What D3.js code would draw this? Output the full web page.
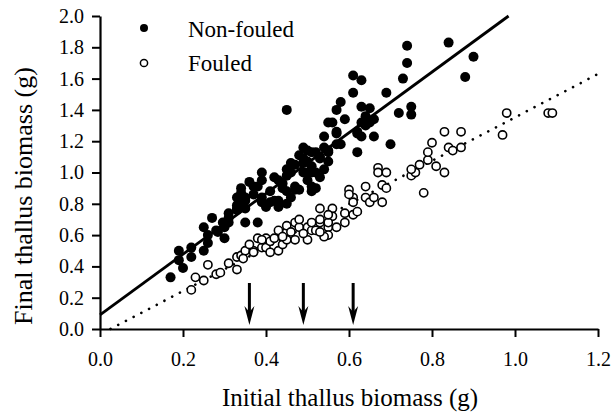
<!DOCTYPE html>
<html>
<head>
<meta charset="utf-8">
<script src="https://cdn.jsdelivr.net/npm/d3@7"></script>
<style>
  html, body { margin: 0; padding: 0; background: #fff; }
  svg { display: block; }
  text { font-family: "Liberation Serif", "Times New Roman", serif; fill: #000; }
</style>
</head>
<body>
<svg id="chart" width="616" height="416"></svg>
<script>
// ---- data ----
const nonFouledX = [0.17,0.19,0.20,0.19,0.22,0.22,0.25,0.26,0.25,0.27,0.26,0.28,0.284,0.30,0.31,0.31,0.30,0.33,0.34,0.34,0.35,0.35,0.38,0.37,0.36,0.296,0.33,0.37,0.39,0.39,0.41,0.39,0.41,0.43,0.44,0.45,0.46,0.48,0.47,0.46,0.45,0.49,0.50,0.49,0.45,0.58,0.55,0.59,0.57,0.54,0.54,0.51,0.55,0.62,0.49,0.53,0.47,0.51,0.46,0.50,0.51,0.53,0.50,0.51,0.47,0.44,0.42,0.43,0.38,0.34,0.33,0.35,0.39,0.42,0.45,0.48,0.40,0.43,0.45,0.35,0.33,0.31,0.61,0.63,0.61,0.57,0.63,0.56,0.74,0.84,0.90,0.74,0.88,0.73,0.69,0.65,0.72,0.75,0.75,0.64,0.66,0.64,0.62,0.63,0.66,0.70,0.58,0.63,0.65,0.57,0.62,0.49,0.52,0.55,0.57,0.50,0.53,0.55,0.52,0.54,0.52,0.51];
const nonFouledY = [0.33,0.44,0.39,0.50,0.52,0.46,0.50,0.55,0.65,0.71,0.60,0.63,0.62,0.58,0.71,0.68,0.65,0.76,0.82,0.87,0.82,0.68,0.68,0.91,0.94,0.68,0.79,0.86,1.00,0.95,0.88,0.81,0.81,0.82,0.90,1.02,1.06,1.11,0.89,0.84,0.98,1.09,1.14,1.00,1.40,1.45,1.32,1.34,1.26,1.23,1.16,1.13,1.14,1.13,1.06,1.09,1.05,1.04,1.00,1.00,1.00,0.97,0.95,0.91,0.91,0.93,0.97,0.95,0.91,0.90,0.84,0.84,0.84,0.82,0.88,0.89,0.78,0.78,0.80,0.77,0.77,0.74,1.62,1.59,1.51,1.40,1.42,1.32,1.81,1.83,1.74,1.70,1.61,1.60,1.51,1.41,1.38,1.42,1.37,1.36,1.34,1.30,1.26,1.23,1.23,1.18,1.18,1.32,1.32,1.25,1.25,1.16,1.13,1.13,1.18,1.07,1.10,1.07,1.00,1.02,0.90,0.88];

const fouledX = [0.22,0.23,0.25,0.26,0.28,0.29,0.31,0.33,0.33,0.34,0.35,0.37,0.38,0.345,0.37,0.39,0.40,0.40,0.41,0.43,0.42,0.43,0.44,0.45,0.45,0.47,0.48,0.45,0.48,0.50,0.50,0.51,0.53,0.55,0.55,0.47,0.52,0.53,0.56,0.56,0.55,0.57,0.59,0.59,0.61,0.54,0.60,0.61,0.61,0.64,0.64,0.65,0.62,0.67,0.67,0.69,0.68,0.69,0.68,0.75,0.76,0.77,0.79,0.78,0.98,0.97,0.83,0.87,0.80,0.79,0.84,0.85,0.87,0.81,0.83,0.75,0.60,1.08,1.09,0.66,0.55,0.53,0.51,0.39,0.36,0.44,0.46,0.49,0.53,0.41];
const fouledY = [0.25,0.33,0.31,0.41,0.35,0.36,0.42,0.38,0.46,0.47,0.50,0.50,0.58,0.45,0.49,0.52,0.58,0.52,0.56,0.63,0.58,0.50,0.54,0.62,0.57,0.68,0.65,0.66,0.70,0.65,0.57,0.63,0.68,0.65,0.60,0.57,0.63,0.77,0.77,0.72,0.68,0.65,0.68,0.74,0.73,0.59,0.89,0.84,0.81,0.91,0.84,0.81,0.75,1.03,1.00,1.00,0.92,0.90,0.81,0.98,1.00,1.05,1.08,0.87,1.38,1.24,1.26,1.26,1.19,1.13,1.16,1.14,1.16,1.04,1.00,1.02,0.86,1.38,1.38,0.84,0.73,0.70,0.68,0.57,0.54,0.59,0.62,0.61,0.62,0.49];

// fitted lines: intercept, slope
const nonFouledFit = [0.09, 1.94];
const fouledFit = [-0.035, 1.387];

// arrows marking initial biomass classes
const arrowX = [0.36, 0.49, 0.61];

const xTicks = [0, 0.2, 0.4, 0.6, 0.8, 1.0, 1.2];
const yTicks = [0, 0.2, 0.4, 0.6, 0.8, 1.0, 1.2, 1.4, 1.6, 1.8, 2.0];
const legendLabels = ["Non-fouled", "Fouled"];

// ---- drawing ----
const FONT = '"Liberation Serif", "Times New Roman", serif';
const svg = d3.select("#chart");
const x = d3.scaleLinear().domain([0, 1.2]).range([100, 598]);
const y = d3.scaleLinear().domain([0, 2.0]).range([329, 16]);

// fit lines
const line = d3.line().x(d => x(d[0])).y(d => y(d[1]));
const nfEndX = (2.0 - nonFouledFit[0]) / nonFouledFit[1];
svg.append("path")
  .attr("d", line([[0, nonFouledFit[0]], [nfEndX, 2.0]]))
  .attr("stroke", "#000").attr("stroke-width", 2.8).attr("fill", "none");

const fStartX = -fouledFit[0] / fouledFit[1];
svg.append("path")
  .attr("d", line([[fStartX, 0], [1.2, fouledFit[0] + fouledFit[1] * 1.2]]))
  .attr("stroke", "#000").attr("stroke-width", 2.6).attr("fill", "none")
  .attr("stroke-linecap", "round").attr("stroke-dasharray", "0.1,8.6");

// points
const nf = nonFouledX.map((v, i) => [v, nonFouledY[i]]);
const fo = fouledX.map((v, i) => [v, fouledY[i]]);

svg.append("g").selectAll("circle").data(fo).join("circle")
  .attr("cx", d => x(d[0])).attr("cy", d => y(d[1])).attr("r", 4.1)
  .attr("fill", "#fff").attr("stroke", "#000").attr("stroke-width", 1.6);

svg.append("g").selectAll("circle").data(nf).join("circle")
  .attr("cx", d => x(d[0])).attr("cy", d => y(d[1])).attr("r", 5)
  .attr("fill", "#000");

// axes
const yAxis = d3.axisLeft(y).tickValues(yTicks).tickFormat(d3.format(".1f"))
  .tickSize(8).tickSizeOuter(0).tickPadding(8);
const gy = svg.append("g").attr("transform", `translate(${x(0)},0)`).call(yAxis);

const xAxis = d3.axisBottom(x).tickValues(xTicks).tickFormat(d3.format(".1f"))
  .tickSize(8).tickSizeOuter(0).tickPadding(15);
const gx = svg.append("g").attr("transform", `translate(0,${y(0)})`).call(xAxis);

[gx, gy].forEach(g => {
  g.attr("font-family", FONT).attr("font-size", 20);
  g.select(".domain").attr("stroke-width", 2.2);
  g.selectAll(".tick line").attr("stroke-width", 2);
  g.selectAll(".tick text").attr("font-family", FONT).attr("font-size", 20)
    .style("font-family", FONT).style("font-size", "20px");
});

// arrows
arrowX.forEach(a => {
  const ax = x(a);
  svg.append("line").attr("x1", ax).attr("x2", ax).attr("y1", 283).attr("y2", 316)
    .attr("stroke", "#000").attr("stroke-width", 3);
  svg.append("path")
    .attr("d", `M${ax},325 L${ax - 5},306 L${ax},312 L${ax + 5},306 Z`)
    .attr("fill", "#000");
});

// axis titles
svg.append("text").attr("x", 350).attr("y", 406).attr("text-anchor", "middle")
  .style("font-size", "25px").text("Initial thallus biomass (g)");
svg.append("text").attr("transform", "translate(32,196) rotate(-90)").attr("text-anchor", "middle")
  .style("font-size", "26px").text("Final thallus biomass (g)");

// legend
svg.append("circle").attr("cx", 144).attr("cy", 28).attr("r", 4).attr("fill", "#000");
svg.append("circle").attr("cx", 144).attr("cy", 63).attr("r", 3.6)
  .attr("fill", "#fff").attr("stroke", "#000").attr("stroke-width", 1.5);
svg.append("text").attr("x", 188).attr("y", 37).style("font-size", "23px").text(legendLabels[0]);
svg.append("text").attr("x", 188).attr("y", 71).style("font-size", "23px").text(legendLabels[1]);
</script>
</body>
</html>
